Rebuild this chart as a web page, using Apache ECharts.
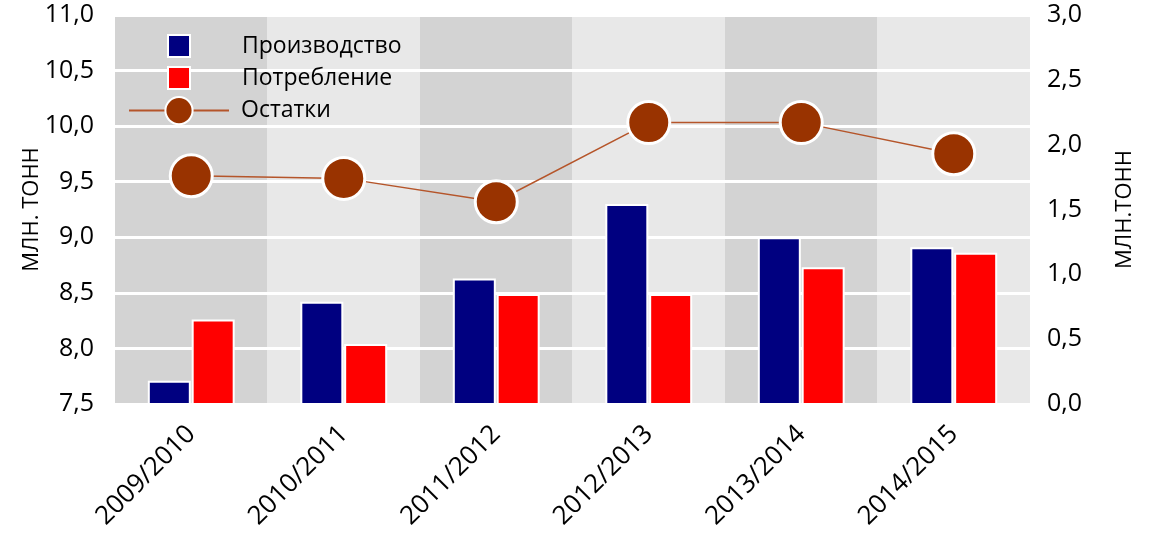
<!DOCTYPE html>
<html><head><meta charset="utf-8">
<script src="https://cdn.jsdelivr.net/npm/echarts@6/dist/echarts.min.js"></script>
<style>html,body{margin:0;padding:0;background:#fff}#c{width:1170px;height:539px}</style>
</head><body><div id="c"></div>
<script>
const categories = ['2009/2010','2010/2011','2011/2012','2012/2013','2013/2014','2014/2015'];
const production = [7.71, 8.42, 8.63, 9.30, 9.00, 8.91];
const consumption = [8.26, 8.04, 8.49, 8.49, 8.73, 8.86];
const stocks = [1.76, 1.74, 1.56, 2.17, 2.17, 1.93];
const seriesNames = ['Производство','Потребление','Остатки'];
const leftAxisName = 'МЛН. ТОНН';
const rightAxisName = 'МЛН.ТОНН';

const font = 'Open Sans';
const fmt = v => v.toFixed(1).replace('.', ',');
const chart = echarts.init(document.getElementById('c'));
chart.setOption({
  animation: false,
  textStyle: {fontFamily: font},
  grid: {left: 115, right: 140, top: 15, bottom: 135},
  legend: [
    {
      orient: 'vertical', left: 162, top: 29,
      itemWidth: 22, itemHeight: 22, itemGap: 8, icon: 'rect',
      textStyle: {fontSize: 23, color: '#000', fontFamily: font, padding: [0,0,0,47]},
      data: [seriesNames[0], seriesNames[1]]
    },
    {
      orient: 'vertical', left: 123, top: 91,
      itemWidth: 100, itemHeight: 34,
      textStyle: {fontSize: 23, color: '#000', fontFamily: font, padding: [0,0,0,7]},
      data: [seriesNames[2]]
    }
  ],
  xAxis: {
    type: 'category', data: categories, z: 0,
    axisLine: {show: false}, axisTick: {show: false},
    axisLabel: {rotate: 45, fontSize: 26, color: '#000', margin: 26, fontFamily: font},
    splitArea: {show: true, areaStyle: {color: ['#d3d3d3', '#e8e8e8']}}
  },
  yAxis: [
    {
      type: 'value', min: 7.5, max: 11, interval: 0.5, z: 1,
      name: leftAxisName, nameLocation: 'middle', nameGap: 72, nameRotate: 90,
      nameMoveOverlap: false,
      nameTextStyle: {fontSize: 22, color: '#000', fontFamily: font},
      axisLine: {show: false}, axisTick: {show: false},
      axisLabel: {formatter: fmt, fontSize: 25, color: '#000', margin: 21, fontFamily: font},
      splitLine: {show: true, lineStyle: {color: '#fff', width: 3}}
    },
    {
      type: 'value', min: 0, max: 3, interval: 0.5, z: 1,
      name: rightAxisName, nameLocation: 'middle', nameGap: 84, nameRotate: 90,
      nameMoveOverlap: false,
      nameTextStyle: {fontSize: 22, color: '#000', fontFamily: font},
      axisLine: {show: false}, axisTick: {show: false},
      axisLabel: {formatter: fmt, fontSize: 25, color: '#000', margin: 17, fontFamily: font},
      splitLine: {show: false}
    }
  ],
  series: [
    {name: seriesNames[0], type: 'bar', data: production, barWidth: 43, barGap: '2%',
     itemStyle: {color: '#000080', borderColor: '#fff', borderWidth: 2}},
    {name: seriesNames[1], type: 'bar', data: consumption, barWidth: 43,
     itemStyle: {color: '#ff0000', borderColor: '#fff', borderWidth: 2}},
    {name: seriesNames[2], type: 'line', yAxisIndex: 1, data: stocks,
     symbol: 'circle', symbolSize: 42,
     lineStyle: {color: '#b5552a', width: 1.5},
     itemStyle: {color: '#993300', borderColor: '#fff', borderWidth: 3}, z: 5}
  ]
});
</script></body></html>
